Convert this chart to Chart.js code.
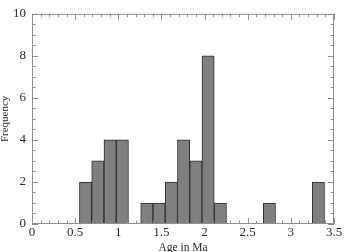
<!DOCTYPE html>
<html>
<head>
<meta charset="utf-8">
<script src="https://cdn.jsdelivr.net/npm/chart.js@4"></script>
<style>
  body { margin: 0; background: #fff; }
  canvas { display: block; }
</style>
</head>
<body>
<canvas id="histo" width="345" height="252"></canvas>
<script>
// centros de cada barra (Ma) y su frecuencia
const binCenters = [0.621, 0.763, 0.905, 1.047, 1.331, 1.473, 1.615, 1.757, 1.899, 2.041, 2.183, 2.751, 3.319];
const counts = [2, 3, 4, 4, 1, 1, 2, 4, 3, 8, 1, 1, 2];
const xTickLabels = ['0', '0.5', '1', '1.5', '2', '2.5', '3', '3.5'];
const yTickLabels = ['0', '2', '4', '6', '8', '10'];

const serif = "'Liberation Serif', 'Times New Roman', serif";

// marco y marcas hacia adentro en los cuatro lados
const innerTicks = {
    id: 'innerTicks',
    afterDatasetsDraw(chart) {
        const { ctx, chartArea: a, scales: { x, y } } = chart;
        ctx.save();
        ctx.strokeStyle = '#8f8f8f';
        ctx.lineWidth = 1;
        ctx.strokeRect(a.left + 0.5, a.top + 0.5, a.right - a.left - 1, a.bottom - a.top - 1);
        ctx.beginPath();
        for (let i = 0; i <= 35; i++) {
            const px = Math.round(x.getPixelForValue(i / 10)) + 0.5;
            const len = i % 5 === 0 ? 6 : 3.5;
            ctx.moveTo(px, a.bottom); ctx.lineTo(px, a.bottom - len);
            ctx.moveTo(px, a.top); ctx.lineTo(px, a.top + len);
        }
        for (let i = 0; i <= 20; i++) {
            const py = Math.round(y.getPixelForValue(i / 2)) + 0.5;
            const len = i % 4 === 0 ? 6 : 3.5;
            ctx.moveTo(a.left, py); ctx.lineTo(a.left + len, py);
            ctx.moveTo(a.right, py); ctx.lineTo(a.right - len, py);
        }
        ctx.stroke();
        ctx.restore();
    }
};

new Chart(document.getElementById('histo'), {
    type: 'bar',
    data: {
        datasets: [{
            data: binCenters.map((c, i) => ({ x: c, y: counts[i] })),
            backgroundColor: '#808080',
            borderColor: '#2e2e2e',
            borderWidth: 1,
            barPercentage: 1,
            categoryPercentage: 1
        }]
    },
    options: {
        responsive: false,
        animation: false,
        events: [],
        layout: { padding: { top: 7, right: 11, left: 0, bottom: 0 } },
        plugins: { legend: { display: false }, tooltip: { enabled: false } },
        scales: {
            x: {
                type: 'linear',
                offset: false,
                min: 0,
                max: 3.5,
                grid: { display: false, drawTicks: false },
                border: { display: false },
                ticks: {
                    stepSize: 0.5,
                    padding: 1,
                    maxRotation: 0,
                    color: '#2a2a2a',
                    font: { family: serif, size: 13 },
                    callback: (v, i) => xTickLabels[i]
                },
                title: {
                    display: true,
                    text: 'Age in Ma',
                    color: '#2a2a2a',
                    font: { family: serif, size: 11.5 },
                    padding: { top: 0, bottom: -3 }
                },
                afterFit: s => { s.height = 28; }
            },
            y: {
                min: 0,
                max: 10,
                grid: { display: false, drawTicks: false },
                border: { display: false },
                ticks: {
                    stepSize: 2,
                    padding: 6,
                    color: '#2a2a2a',
                    font: { family: serif, size: 13 },
                    callback: (v, i) => yTickLabels[i]
                },
                title: {
                    display: true,
                    text: 'Frequency',
                    color: '#2a2a2a',
                    font: { family: serif, size: 11 },
                    padding: { top: -1, bottom: 0 }
                },
                afterFit: s => { s.width = 32; }
            }
        }
    },
    plugins: [innerTicks]
});
</script>
</body>
</html>
